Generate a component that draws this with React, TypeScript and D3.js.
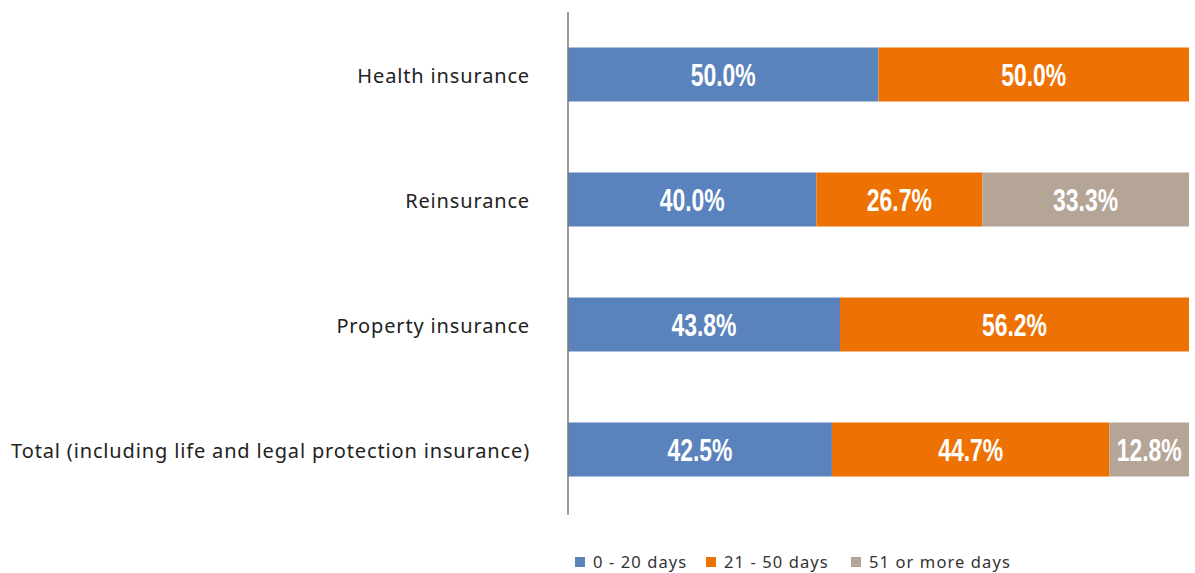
import React from 'react';
import * as d3 from 'd3';

const categories = [
  'Health insurance',
  'Reinsurance',
  'Property insurance',
  'Total (including life and legal protection insurance)',
];
const seriesNames = ['0 - 20 days', '21 - 50 days', '51 or more days'];
const days0to20 = [50.0, 40.0, 43.8, 42.5];
const days21to50 = [50.0, 26.7, 56.2, 44.7];
const days51plus = [0, 33.3, 0, 12.8];

const COLORS = ['#5a82bc', '#ee7203', '#b5a597'];

const W = 1195;
const H = 573;

const App: React.FC = () => {
  const series = [days0to20, days21to50, days51plus];
  const rows = categories.map((c, i) => {
    const r: Record<string, number | string> = { cat: c };
    seriesNames.forEach((s, j) => (r[s] = series[j][i]));
    return r;
  });
  const stacked = d3.stack<Record<string, number | string>>().keys(seriesNames)(rows as any);

  const x = d3.scaleLinear().domain([0, 100]).range([568, 1189]);
  const y = d3.scaleBand().domain(categories).range([12, 512]).paddingInner(0.568).paddingOuter(0.284);

  return (
    <svg width={W} height={H} style={{ position: 'absolute', left: 0, top: 0, background: '#fff' }}>
      {/* bars */}
      {stacked.map((layer, j) => (
        <g key={layer.key}>
          {layer.map((d, i) => {
            const v = series[j][i];
            if (!v) return null;
            const x0 = x(d[0]);
            const x1 = x(d[1]);
            const yy = y(categories[i])!;
            return (
              <g key={i}>
                <rect x={x0} y={yy} width={x1 - x0} height={y.bandwidth()} fill={COLORS[j]} />
                <text
                  transform={`translate(${(x0 + x1) / 2},${yy + y.bandwidth() / 2}) scale(0.74,1)`}
                  dy="0.36em"
                  textAnchor="middle"
                  fill="#fff"
                  fontFamily="'Liberation Sans', Arial, sans-serif"
                  fontWeight="bold"
                  fontSize={31}
                >
                  {v.toFixed(1) + '%'}
                </text>
              </g>
            );
          })}
        </g>
      ))}

      {/* axis */}
      <line x1={568} x2={568} y1={12} y2={515} stroke="#7a7a7a" strokeWidth={1.5} />

      {/* category labels */}
      {categories.map((c) => (
        <text
          key={c}
          x={530}
          y={y(c)! + y.bandwidth() / 2 + 1}
          dy="0.36em"
          textAnchor="end"
          fill="#222"
          fontFamily="'Noto Sans', sans-serif"
          fontSize={20}
          letterSpacing={0.85}
        >
          {c}
        </text>
      ))}

      {/* legend */}
      {(() => {
        const starts = [575, 706, 851];
        return seriesNames.map((s, j) => (
          <g key={s} transform={`translate(${starts[j]},562)`}>
            <rect x={0} y={-5} width={10} height={10} fill={COLORS[j]} />
            <text
              x={18}
              y={0}
              dy="0.36em"
              fill="#333"
              fontFamily="'Noto Sans', sans-serif"
              fontSize={16.5}
              letterSpacing={1.1}
            >
              {s}
            </text>
          </g>
        ));
      })()}
    </svg>
  );
};

export default App;
